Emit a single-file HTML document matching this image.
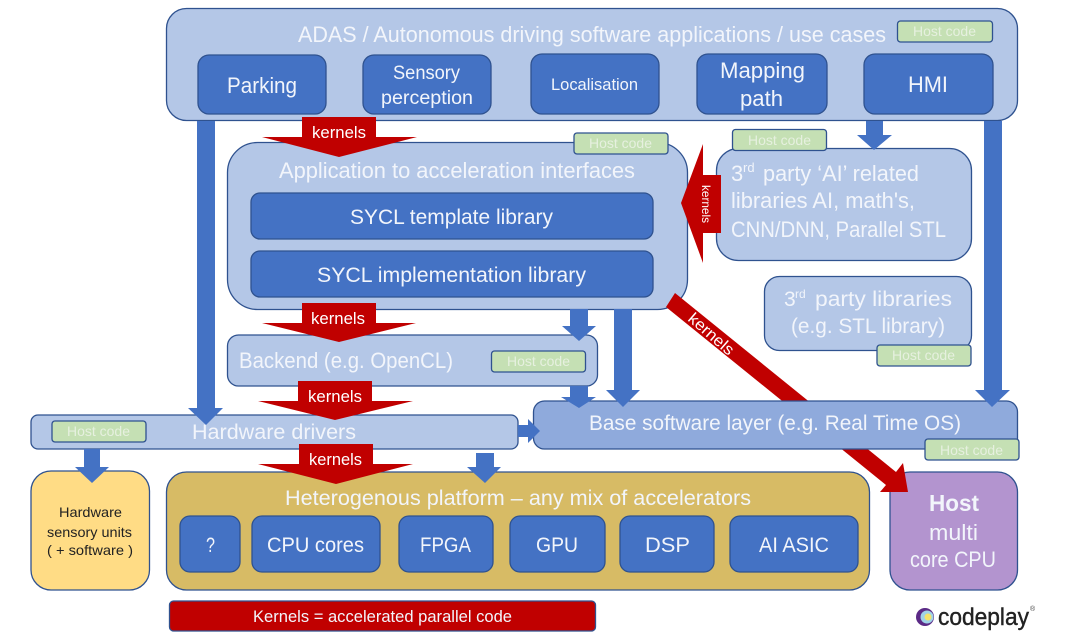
<!DOCTYPE html>
<html><head><meta charset="utf-8"><style>
html,body{margin:0;padding:0;background:#fff}
svg{display:block}
text{font-family:"Liberation Sans",sans-serif;fill:#f2f5fb}
.b{stroke:#2f528f;stroke-width:1.3}
.l{fill:#b4c7e7}.d{fill:#4472c4}.g{fill:#c5e0b4}.a{fill:#4472c4}.r{fill:#c00000}
.h{font-size:14px;fill:#e6f0df}
</style></head><body>
<svg width="1080" height="632" viewBox="0 0 1080 632" xmlns="http://www.w3.org/2000/svg">
<rect width="1080" height="632" fill="#fff"/>
<!-- top -->
<rect class="b l" x="166.500" y="8.500" width="851" height="112" rx="20"/>
<text x="298" y="42" font-size="22" textLength="588" lengthAdjust="spacingAndGlyphs">ADAS / Autonomous driving software applications / use cases</text>
<rect class="b g" x="897.500" y="21" width="95" height="21" rx="3"/>
<text class="h" x="913" y="36" textLength="63" lengthAdjust="spacingAndGlyphs">Host code</text>
<rect class="b d" x="198" y="55" width="128" height="59" rx="11"/>
<text x="227" y="93" font-size="22" textLength="70" lengthAdjust="spacingAndGlyphs">Parking</text>
<rect class="b d" x="363" y="55" width="128" height="59" rx="11"/>
<text x="393" y="79" font-size="19" textLength="67" lengthAdjust="spacingAndGlyphs">Sensory</text>
<text x="381" y="104" font-size="19" textLength="92" lengthAdjust="spacingAndGlyphs">perception</text>
<rect class="b d" x="531" y="54" width="128" height="60" rx="11"/>
<text x="551" y="90" font-size="17" textLength="87" lengthAdjust="spacingAndGlyphs">Localisation</text>
<rect class="b d" x="697" y="54" width="130" height="60" rx="11"/>
<text x="720" y="78" font-size="22" textLength="85" lengthAdjust="spacingAndGlyphs">Mapping</text>
<text x="740" y="106" font-size="22" textLength="43" lengthAdjust="spacingAndGlyphs">path</text>
<rect class="b d" x="864" y="54" width="129" height="60" rx="11"/>
<text x="908" y="92" font-size="22" textLength="40" lengthAdjust="spacingAndGlyphs">HMI</text>
<!-- application -->
<rect class="b l" x="227.500" y="142.500" width="460" height="167" rx="30"/>
<text x="279" y="178" font-size="22" textLength="356" lengthAdjust="spacingAndGlyphs">Application to acceleration interfaces</text>
<rect class="b d" x="251" y="193" width="402" height="46" rx="9"/>
<text x="350" y="224" font-size="21" textLength="203" lengthAdjust="spacingAndGlyphs">SYCL template library</text>
<rect class="b d" x="251" y="251" width="402" height="46" rx="9"/>
<text x="317" y="282" font-size="21" textLength="269" lengthAdjust="spacingAndGlyphs">SYCL implementation library</text>
<rect class="b g" x="574" y="133" width="94" height="21" rx="3"/>
<text class="h" x="589" y="148" textLength="63" lengthAdjust="spacingAndGlyphs">Host code</text>
<!-- 3rd party AI -->
<rect class="b l" x="716.500" y="148.500" width="255" height="112" rx="22"/>
<text x="731" y="181" font-size="22">3</text>
<text x="743" y="172" font-size="13">rd</text>
<text x="763" y="181" font-size="22" textLength="156" lengthAdjust="spacingAndGlyphs">party ‘AI’ related</text>
<text x="731" y="208" font-size="22" textLength="184" lengthAdjust="spacingAndGlyphs">libraries AI, math's,</text>
<text x="731" y="237" font-size="22" textLength="215" lengthAdjust="spacingAndGlyphs">CNN/DNN, Parallel STL</text>
<rect class="b g" x="732.500" y="129.500" width="94" height="21" rx="3"/>
<text class="h" x="748" y="145" textLength="63" lengthAdjust="spacingAndGlyphs">Host code</text>
<!-- 3rd party -->
<rect class="b l" x="764.500" y="276.500" width="207" height="74" rx="15"/>
<text x="784" y="306" font-size="21">3</text>
<text x="795" y="298" font-size="12">rd</text>
<text x="815" y="306" font-size="21" textLength="137" lengthAdjust="spacingAndGlyphs">party  libraries</text>
<text x="791" y="333" font-size="21" textLength="154" lengthAdjust="spacingAndGlyphs">(e.g. STL library)</text>
<rect class="b g" x="877" y="345" width="94" height="21" rx="3"/>
<text class="h" x="892" y="360" textLength="63" lengthAdjust="spacingAndGlyphs">Host code</text>
<!-- host -->
<rect class="b" fill="#b394cf" x="890" y="472" width="127.500" height="118" rx="20"/>
<text x="929" y="511" font-size="23" font-weight="bold" textLength="50" lengthAdjust="spacingAndGlyphs">Host</text>
<text x="929" y="540" font-size="22" textLength="49" lengthAdjust="spacingAndGlyphs">multi</text>
<text x="910" y="567" font-size="22" textLength="86" lengthAdjust="spacingAndGlyphs">core CPU</text>
<!-- diagonal: over application and host, under base -->
<polygon class="r" points="675,293 896,472 903,463 908,492 880,492 886,485 666,307"/>
<text transform="translate(687,320) rotate(41)" font-size="16" textLength="55" lengthAdjust="spacingAndGlyphs" style="fill:#fff">kernels</text>
<!-- backend -->
<rect class="b l" x="227.500" y="335" width="370" height="51" rx="11"/>
<text x="239" y="368" font-size="22" textLength="214" lengthAdjust="spacingAndGlyphs">Backend (e.g. OpenCL)</text>
<rect class="b g" x="491.500" y="351" width="94" height="21" rx="3"/>
<text class="h" x="507" y="366" textLength="63" lengthAdjust="spacingAndGlyphs">Host code</text>
<!-- base -->
<rect class="b" fill="#8faadc" x="533.500" y="401" width="484" height="48" rx="11"/>
<text x="589" y="430" font-size="21" textLength="372" lengthAdjust="spacingAndGlyphs">Base software layer (e.g. Real Time OS)</text>
<rect class="b g" x="925" y="439" width="94" height="21" rx="3"/>
<text class="h" x="940" y="455" textLength="63" lengthAdjust="spacingAndGlyphs">Host code</text>
<!-- hw drivers -->
<rect class="b l" x="31" y="415" width="487" height="34" rx="7"/>
<text x="192" y="439" font-size="21" textLength="164" lengthAdjust="spacingAndGlyphs">Hardware drivers</text>
<rect class="b g" x="52" y="421" width="94" height="21" rx="3"/>
<text class="h" x="67" y="436" textLength="63" lengthAdjust="spacingAndGlyphs">Host code</text>
<!-- sensory -->
<rect class="b" fill="#ffdc85" x="31" y="471" width="118.500" height="119" rx="20"/>
<text x="59" y="517" font-size="14" style="fill:#222" textLength="63" lengthAdjust="spacingAndGlyphs">Hardware</text>
<text x="47" y="537" font-size="14" style="fill:#222" textLength="85" lengthAdjust="spacingAndGlyphs">sensory units</text>
<text x="47" y="555" font-size="14" style="fill:#222" textLength="86" lengthAdjust="spacingAndGlyphs">( + software )</text>
<!-- hetero -->
<rect class="b" fill="#d7bb65" x="166.500" y="472" width="703" height="118" rx="20"/>
<text x="285" y="505" font-size="21" textLength="466" lengthAdjust="spacingAndGlyphs">Heterogenous platform – any mix of accelerators</text>
<rect class="b d" x="180" y="516" width="60" height="56" rx="10"/>
<text x="206" y="552" font-size="21" textLength="9" lengthAdjust="spacingAndGlyphs">?</text>
<rect class="b d" x="252" y="516" width="128" height="56" rx="10"/>
<text x="267" y="552" font-size="21" textLength="97" lengthAdjust="spacingAndGlyphs">CPU cores</text>
<rect class="b d" x="399" y="516" width="94" height="56" rx="10"/>
<text x="420" y="552" font-size="21" textLength="51" lengthAdjust="spacingAndGlyphs">FPGA</text>
<rect class="b d" x="510" y="516" width="95" height="56" rx="10"/>
<text x="536" y="552" font-size="21" textLength="42" lengthAdjust="spacingAndGlyphs">GPU</text>
<rect class="b d" x="620" y="516" width="94" height="56" rx="10"/>
<text x="645" y="552" font-size="21" textLength="45" lengthAdjust="spacingAndGlyphs">DSP</text>
<rect class="b d" x="730" y="516" width="128" height="56" rx="10"/>
<text x="759" y="552" font-size="21" textLength="70" lengthAdjust="spacingAndGlyphs">AI ASIC</text>
<!-- legend -->
<rect class="b r" x="169.500" y="601" width="426" height="30" rx="4"/>
<text x="253" y="622" font-size="17" textLength="259" lengthAdjust="spacingAndGlyphs">Kernels = accelerated parallel code</text>
<!-- blue arrows -->
<polygon class="a" points="197,121 215,121 215,408 223,408 206,425 188,408 197,408"/>
<polygon class="a" points="866,121 883,121 883,135 892,135 874,150 857,135 866,135"/>
<polygon class="a" points="984,121 1002,121 1002,390 1010,390 992,407 975,390 984,390"/>
<polygon class="a" points="570,309 588,309 588,326 596,326 579,341 562,326 570,326"/>
<polygon class="a" points="614,309 632,309 632,390 640,390 623,407 606,390 614,390"/>
<polygon class="a" points="570,386 588,386 588,397 596,397 579,408 561,397 570,397"/>
<polygon class="a" points="518,425 528,425 528,419 540,431 528,443 528,437 518,437"/>
<polygon class="a" points="84,449 100,449 100,467 109,467 92,483 75,467 84,467"/>
<polygon class="a" points="476,453 494,453 494,467 501,467 485,483 467,467 476,467"/>
<!-- red arrows -->
<polygon class="r" points="302,117 376,117 376,137 417,137 339,157 262,137 302,137"/>
<text x="312" y="138" font-size="17" textLength="54" lengthAdjust="spacingAndGlyphs" style="fill:#fff">kernels</text>
<polygon class="r" points="302,303 376,303 376,323 416,323 339,342 262,323 302,323"/>
<text x="311" y="324" font-size="17" textLength="54" lengthAdjust="spacingAndGlyphs" style="fill:#fff">kernels</text>
<polygon class="r" points="298,381 372,381 372,401 413,401 335,420 258,401 298,401"/>
<text x="308" y="402" font-size="17" textLength="54" lengthAdjust="spacingAndGlyphs" style="fill:#fff">kernels</text>
<polygon class="r" points="299,444 373,444 373,464 413,464 336,484 258,464 299,464"/>
<text x="309" y="465" font-size="17" textLength="53" lengthAdjust="spacingAndGlyphs" style="fill:#fff">kernels</text>
<polygon class="r" points="681,203 703,144 703,175 721,175 721,233 703,233 703,263"/>
<text transform="translate(702,185) rotate(90)" font-size="12" textLength="38" lengthAdjust="spacingAndGlyphs" style="fill:#fff">kernels</text>
<!-- logo -->
<circle cx="925" cy="617" r="9" fill="#5b2a86"/>
<circle cx="927" cy="617" r="6.500" fill="#9fd3e8"/>
<circle cx="928" cy="617" r="3.500" fill="#f3e36b"/>
<text x="938" y="625" font-size="24" textLength="91" lengthAdjust="spacingAndGlyphs" style="fill:#222;stroke:#222;stroke-width:.4">codeplay</text>
<text x="1030" y="611" font-size="7" style="fill:#444">®</text>
</svg>
</body></html>
